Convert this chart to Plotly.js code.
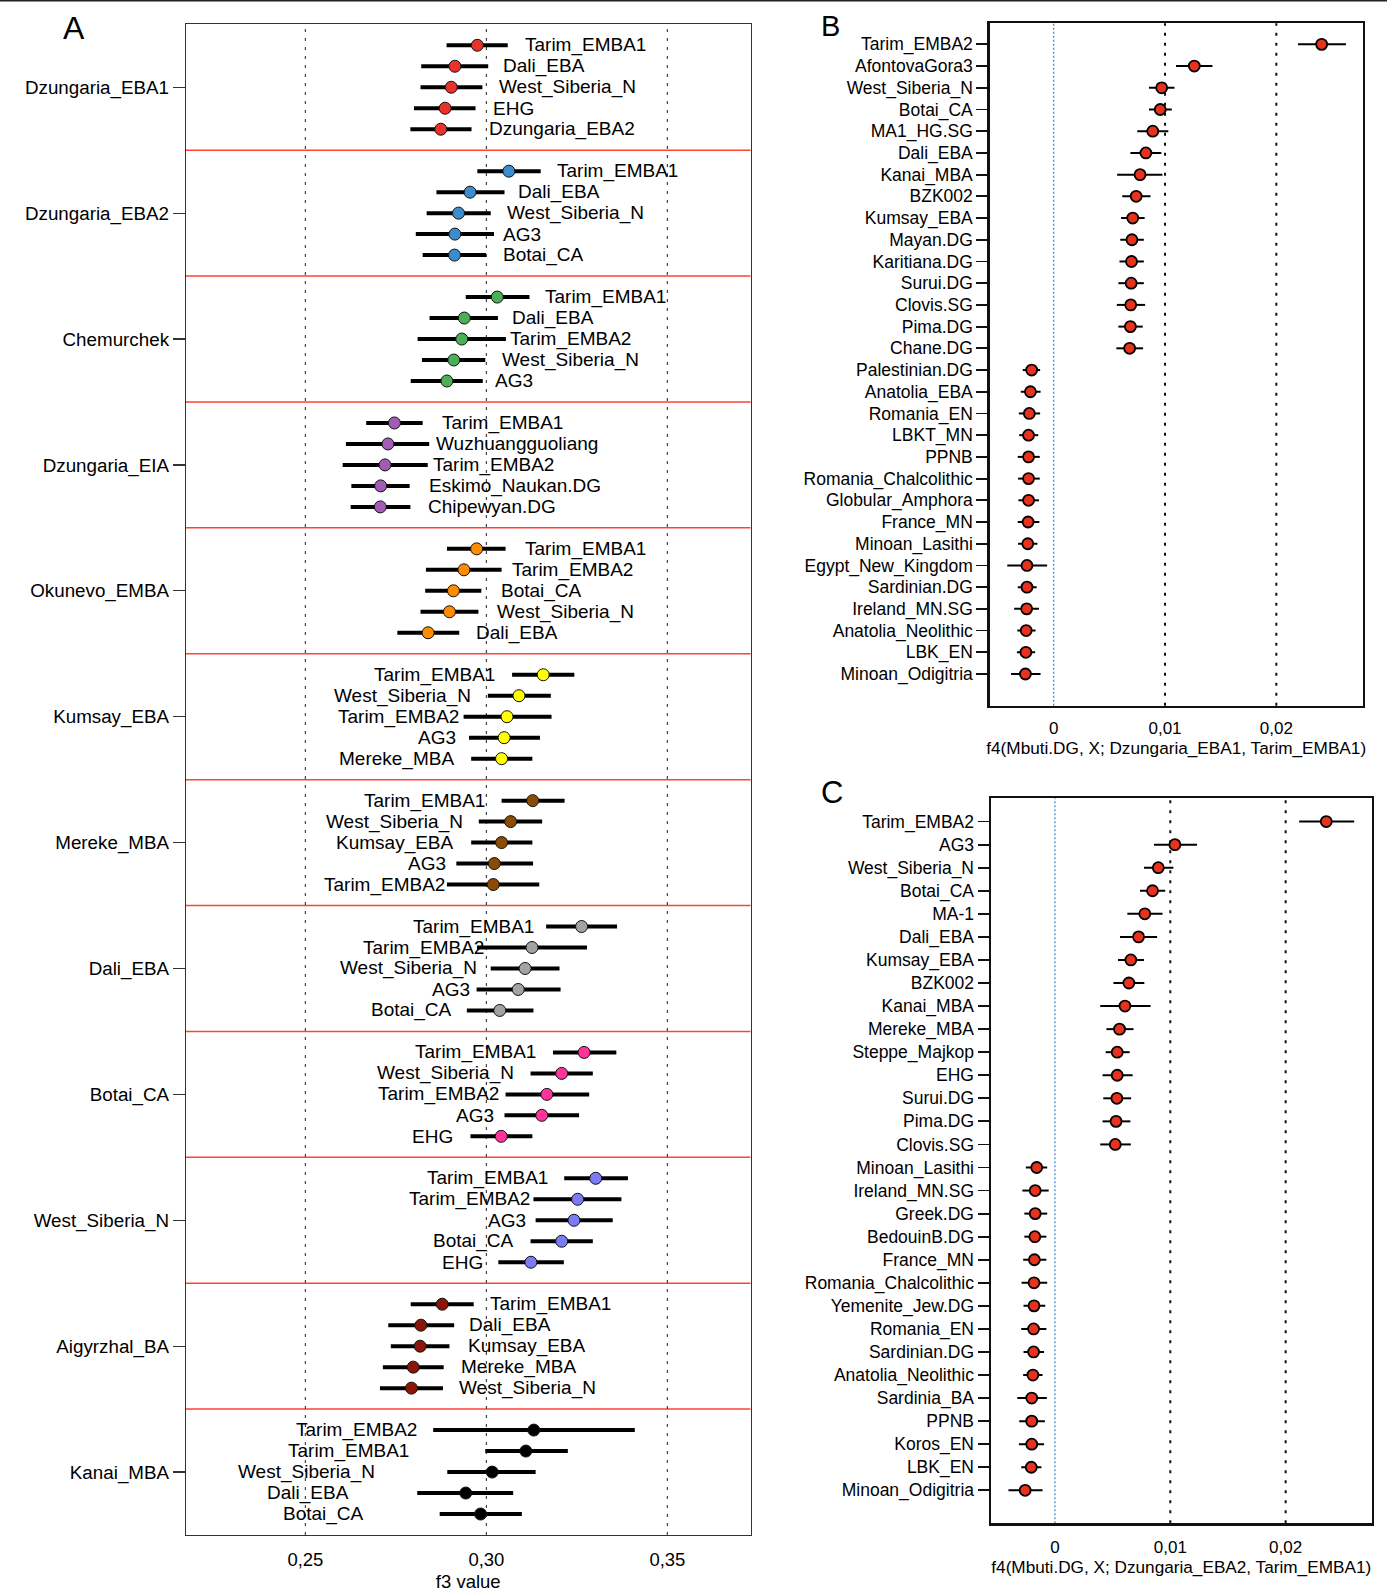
<!DOCTYPE html>
<html>
<head>
<meta charset="utf-8">
<script src="https://cdn.plot.ly/plotly-3.0.1.min.js"></script>
<style>
  html, body { margin: 0; padding: 0; background: #fff; }
  #fig { width: 1387px; height: 1592px; }
</style>
</head>
<body>
<div id="fig"></div>
<script>
// ---------- Panel A: f3 statistics, five best partners per target ----------
const A_GROUPS = ['Dzungaria_EBA1', 'Dzungaria_EBA2', 'Chemurchek', 'Dzungaria_EIA', 'Okunevo_EMBA',
  'Kumsay_EBA', 'Mereke_MBA', 'Dali_EBA', 'Botai_CA', 'West_Siberia_N', 'Aigyrzhal_BA', 'Kanai_MBA'];

const A_POPS = [
  ['Tarim_EMBA1', 'Dali_EBA', 'West_Siberia_N', 'EHG', 'Dzungaria_EBA2'],
  ['Tarim_EMBA1', 'Dali_EBA', 'West_Siberia_N', 'AG3', 'Botai_CA'],
  ['Tarim_EMBA1', 'Dali_EBA', 'Tarim_EMBA2', 'West_Siberia_N', 'AG3'],
  ['Tarim_EMBA1', 'Wuzhuangguoliang', 'Tarim_EMBA2', 'Eskimo_Naukan.DG', 'Chipewyan.DG'],
  ['Tarim_EMBA1', 'Tarim_EMBA2', 'Botai_CA', 'West_Siberia_N', 'Dali_EBA'],
  ['Tarim_EMBA1', 'West_Siberia_N', 'Tarim_EMBA2', 'AG3', 'Mereke_MBA'],
  ['Tarim_EMBA1', 'West_Siberia_N', 'Kumsay_EBA', 'AG3', 'Tarim_EMBA2'],
  ['Tarim_EMBA1', 'Tarim_EMBA2', 'West_Siberia_N', 'AG3', 'Botai_CA'],
  ['Tarim_EMBA1', 'West_Siberia_N', 'Tarim_EMBA2', 'AG3', 'EHG'],
  ['Tarim_EMBA1', 'Tarim_EMBA2', 'AG3', 'Botai_CA', 'EHG'],
  ['Tarim_EMBA1', 'Dali_EBA', 'Kumsay_EBA', 'Mereke_MBA', 'West_Siberia_N'],
  ['Tarim_EMBA2', 'Tarim_EMBA1', 'West_Siberia_N', 'Dali_EBA', 'Botai_CA']
];

const A_F3 = [
  [0.2975, 0.2913, 0.2903, 0.2886, 0.2874],
  [0.3062, 0.2955, 0.2923, 0.2913, 0.2912],
  [0.3030, 0.2939, 0.2932, 0.2910, 0.2891],
  [0.2746, 0.2728, 0.2720, 0.2708, 0.2707],
  [0.2973, 0.2938, 0.2909, 0.2898, 0.2839],
  [0.3157, 0.3090, 0.3057, 0.3049, 0.3042],
  [0.3128, 0.3067, 0.3042, 0.3022, 0.3019],
  [0.3263, 0.3126, 0.3107, 0.3088, 0.3037],
  [0.3270, 0.3208, 0.3167, 0.3153, 0.3041],
  [0.3302, 0.3252, 0.3242, 0.3208, 0.3123],
  [0.2878, 0.2819, 0.2817, 0.2798, 0.2793],
  [0.3131, 0.3109, 0.3016, 0.2943, 0.2984]
];

const A_LO = [
  [0.2890, 0.2820, 0.2818, 0.2800, 0.2790],
  [0.2975, 0.2862, 0.2835, 0.2805, 0.2824],
  [0.2943, 0.2843, 0.2810, 0.2822, 0.2791],
  [0.2668, 0.2612, 0.2603, 0.2627, 0.2625],
  [0.2891, 0.2833, 0.2831, 0.2818, 0.2754],
  [0.3071, 0.3004, 0.2937, 0.2952, 0.2958],
  [0.3042, 0.2979, 0.2958, 0.2917, 0.2891],
  [0.3165, 0.2974, 0.3012, 0.2973, 0.2946],
  [0.3184, 0.3122, 0.3053, 0.3050, 0.2956],
  [0.3215, 0.3130, 0.3136, 0.3122, 0.3033],
  [0.2791, 0.2729, 0.2736, 0.2714, 0.2706],
  [0.2853, 0.2997, 0.2892, 0.2809, 0.2871]
];

const A_HI = [
  [0.3059, 0.3005, 0.2989, 0.2970, 0.2959],
  [0.3150, 0.3050, 0.3012, 0.3021, 0.2999],
  [0.3119, 0.3032, 0.3054, 0.2997, 0.2990],
  [0.2824, 0.2842, 0.2838, 0.2788, 0.2790],
  [0.3053, 0.3042, 0.2986, 0.2978, 0.2925],
  [0.3243, 0.3178, 0.3180, 0.3148, 0.3127],
  [0.3216, 0.3154, 0.3127, 0.3129, 0.3146],
  [0.3361, 0.3278, 0.3202, 0.3205, 0.3130],
  [0.3359, 0.3294, 0.3284, 0.3256, 0.3127],
  [0.3391, 0.3373, 0.3349, 0.3294, 0.3214],
  [0.2965, 0.2911, 0.2898, 0.2882, 0.2880],
  [0.3410, 0.3225, 0.3136, 0.3074, 0.3098]
];

const A_TICKS = [0.25, 0.30, 0.35];
const A_TICK_TEXT = ['0,25', '0,30', '0,35'];

// ---------- Panel B: f4(Mbuti.DG, X; Dzungaria_EBA1, Tarim_EMBA1) ----------
const B_POPS = ['Tarim_EMBA2', 'AfontovaGora3', 'West_Siberia_N', 'Botai_CA', 'MA1_HG.SG', 'Dali_EBA',
  'Kanai_MBA', 'BZK002', 'Kumsay_EBA', 'Mayan.DG', 'Karitiana.DG', 'Surui.DG', 'Clovis.SG', 'Pima.DG',
  'Chane.DG', 'Palestinian.DG', 'Anatolia_EBA', 'Romania_EN', 'LBKT_MN', 'PPNB', 'Romania_Chalcolithic',
  'Globular_Amphora', 'France_MN', 'Minoan_Lasithi', 'Egypt_New_Kingdom', 'Sardinian.DG', 'Ireland_MN.SG',
  'Anatolia_Neolithic', 'LBK_EN', 'Minoan_Odigitria'];
const B_F4 = [0.02407, 0.01263, 0.00970, 0.00957, 0.00890, 0.00828, 0.00776, 0.00741, 0.00710, 0.00703,
  0.00699, 0.00696, 0.00692, 0.00689, 0.00682, -0.00198, -0.00209, -0.00219, -0.00226, -0.00226,
  -0.00226, -0.00226, -0.00230, -0.00233, -0.00240, -0.00240, -0.00243, -0.00247, -0.00250, -0.00254];
const B_LO = [0.02195, 0.01099, 0.00856, 0.00856, 0.00751, 0.00689, 0.00570, 0.00616, 0.00605, 0.00598,
  0.00591, 0.00581, 0.00567, 0.00581, 0.00563, -0.00278, -0.00296, -0.00313, -0.00310, -0.00323,
  -0.00320, -0.00317, -0.00323, -0.00320, -0.00417, -0.00323, -0.00355, -0.00327, -0.00330, -0.00383];
const B_HI = [0.02626, 0.01426, 0.01085, 0.01061, 0.01030, 0.00967, 0.00977, 0.00870, 0.00817, 0.00810,
  0.00810, 0.00810, 0.00821, 0.00800, 0.00803, -0.00122, -0.00118, -0.00122, -0.00139, -0.00125,
  -0.00125, -0.00132, -0.00129, -0.00146, -0.00059, -0.00153, -0.00132, -0.00163, -0.00167, -0.00118];

// ---------- Panel C: f4(Mbuti.DG, X; Dzungaria_EBA2, Tarim_EMBA1) ----------
const C_POPS = ['Tarim_EMBA2', 'AG3', 'West_Siberia_N', 'Botai_CA', 'MA-1', 'Dali_EBA', 'Kumsay_EBA',
  'BZK002', 'Kanai_MBA', 'Mereke_MBA', 'Steppe_Majkop', 'EHG', 'Surui.DG', 'Pima.DG', 'Clovis.SG',
  'Minoan_Lasithi', 'Ireland_MN.SG', 'Greek.DG', 'BedouinB.DG', 'France_MN', 'Romania_Chalcolithic',
  'Yemenite_Jew.DG', 'Romania_EN', 'Sardinian.DG', 'Anatolia_Neolithic', 'Sardinia_BA', 'PPNB',
  'Koros_EN', 'LBK_EN', 'Minoan_Odigitria'];
const C_F4 = [0.02352, 0.01040, 0.00896, 0.00846, 0.00779, 0.00725, 0.00658, 0.00641, 0.00607, 0.00560,
  0.00540, 0.00540, 0.00537, 0.00530, 0.00523, -0.00158, -0.00171, -0.00171, -0.00174, -0.00178,
  -0.00181, -0.00181, -0.00185, -0.00185, -0.00191, -0.00201, -0.00201, -0.00201, -0.00205, -0.00258];
const C_LO = [0.02117, 0.00859, 0.00772, 0.00738, 0.00628, 0.00564, 0.00547, 0.00507, 0.00393, 0.00446,
  0.00440, 0.00413, 0.00419, 0.00413, 0.00393, -0.00252, -0.00282, -0.00265, -0.00265, -0.00275,
  -0.00289, -0.00272, -0.00292, -0.00272, -0.00275, -0.00326, -0.00309, -0.00312, -0.00292, -0.00403];
const C_HI = [0.02594, 0.01232, 0.01027, 0.00956, 0.00933, 0.00886, 0.00772, 0.00775, 0.00829, 0.00681,
  0.00648, 0.00674, 0.00661, 0.00654, 0.00658, -0.00067, -0.00054, -0.00067, -0.00074, -0.00074,
  -0.00067, -0.00084, -0.00074, -0.00094, -0.00107, -0.00070, -0.00087, -0.00094, -0.00117, -0.00107];

const F4_TICKS = [0, 0.01, 0.02];
const F4_TICK_TEXT = ['0', '0,01', '0,02'];

// ---------- styling ----------
const FONT = 'Liberation Sans, Arial, Helvetica, sans-serif';
const A_COLORS = ['#e8322a', '#3d8ccb', '#4caf55', '#a15db5', '#ff8c00', '#ffff00',
  '#8b4a06', '#a3a3a3', '#ff3399', '#7b7bf5', '#8b1508', '#000000'];
const LABEL_ON_RIGHT = [true, true, true, true, true, false, false, false, false, false, true, false];
const ROWS_PER_GROUP = 6;         // five partners plus one blank slot
const W = 1387, H = 1592;
const px = (v) => v / W, py = (v) => 1 - v / H;

const traces = [];
const annotations = [];
const shapes = [];

// Panel A rows
A_GROUPS.forEach((g, gi) => {
  const ys = A_F3[gi].map((_, i) => gi * ROWS_PER_GROUP + i + 1);
  traces.push({
    type: 'scatter', mode: 'markers', xaxis: 'x', yaxis: 'y',
    x: A_F3[gi], y: ys, name: g, hoverinfo: 'skip',
    error_x: {
      type: 'data', symmetric: false,
      array: A_HI[gi].map((h, i) => h - A_F3[gi][i]),
      arrayminus: A_LO[gi].map((l, i) => A_F3[gi][i] - l),
      color: '#000', thickness: 4, width: 0
    },
    marker: { color: A_COLORS[gi], size: 12, line: { color: '#111', width: 1 } }
  });
  const shift = (g === 'Kanai_MBA') ? 115 : 46;
  A_POPS[gi].forEach((p, i) => {
    annotations.push({
      xref: 'x', yref: 'y', x: A_F3[gi][i], y: ys[i], text: p, showarrow: false,
      xanchor: LABEL_ON_RIGHT[gi] ? 'left' : 'right',
      xshift: LABEL_ON_RIGHT[gi] ? shift : -shift,
      yanchor: 'middle', font: { family: FONT, size: 19, color: '#000' }
    });
  });
  if (gi > 0) {
    shapes.push({
      type: 'line', xref: 'x domain', yref: 'y', x0: 0, x1: 1,
      y0: gi * ROWS_PER_GROUP, y1: gi * ROWS_PER_GROUP,
      line: { color: '#ff4236', width: 1.5 }, layer: 'below'
    });
  }
});
A_TICKS.forEach((v) => shapes.push({
  type: 'line', xref: 'x', yref: 'y domain', x0: v, x1: v, y0: 0, y1: 1,
  line: { color: '#444', width: 1.2, dash: '3px,6px' }, layer: 'below'
}));

// Panels B and C
function f4Panel(pops, vals, lo, hi, xa, ya) {
  const ys = pops.map((_, i) => i + 1);
  traces.push({
    type: 'scatter', mode: 'markers', xaxis: xa, yaxis: ya,
    x: vals, y: ys, hoverinfo: 'skip',
    error_x: {
      type: 'data', symmetric: false,
      array: hi.map((h, i) => h - vals[i]),
      arrayminus: lo.map((l, i) => vals[i] - l),
      color: '#000', thickness: 2, width: 0
    },
    marker: { color: '#e8321e', size: 11, line: { color: '#000', width: 1.8 } }
  });
  F4_TICKS.forEach((v) => shapes.push({
    type: 'line', xref: xa, yref: ya + ' domain', x0: v, x1: v, y0: 0, y1: 1,
    line: v === 0 ? { color: '#3b8fd6', width: 1.3, dash: '2px,2px' }
                  : { color: '#111', width: 2, dash: '3px,7px' },
    layer: 'below'
  }));
}
f4Panel(B_POPS, B_F4, B_LO, B_HI, 'x2', 'y2');
f4Panel(C_POPS, C_F4, C_LO, C_HI, 'x3', 'y3');

// Panel letters
[['A', 61, 28, 32], ['B', 819, 26, 29], ['C', 819, 792, 31]].forEach(([t, x, y, s]) => {
  annotations.push({
    xref: 'paper', yref: 'paper', x: px(x), y: py(y), text: t, showarrow: false,
    xanchor: 'left', yanchor: 'middle', font: { family: FONT, size: s, color: '#000' }
  });
});

// Thin rule across the top edge
shapes.push({
  type: 'line', xref: 'paper', yref: 'paper', x0: 0, x1: 1, y0: 1, y1: 1,
  line: { color: '#222', width: 3 }
});

const baseX = {
  showgrid: false, zeroline: false, showline: true, mirror: true,
  ticks: 'outside', tickcolor: 'rgba(0,0,0,0)', fixedrange: true
};
const baseY = {
  showgrid: false, zeroline: false, showline: true, mirror: true,
  ticks: 'outside', fixedrange: true
};

const layout = {
  width: W, height: H,
  margin: { l: 0, r: 0, t: 0, b: 0 },
  paper_bgcolor: '#fff', plot_bgcolor: '#fff',
  showlegend: false,
  font: { family: FONT, color: '#000' },
  xaxis: Object.assign({}, baseX, {
    domain: [px(186), px(750.5)], anchor: 'y',
    range: [0.21702, 0.37296], tickvals: A_TICKS, ticktext: A_TICK_TEXT,
    ticklen: 8, linecolor: '#333', linewidth: 1.2,
    tickfont: { family: FONT, size: 18.5 },
    title: { text: 'f3 value', font: { family: FONT, size: 18.5 }, standoff: 6 }
  }),
  yaxis: Object.assign({}, baseY, {
    domain: [py(1535), py(24.3)], anchor: 'x',
    range: [A_GROUPS.length * ROWS_PER_GROUP, 0],
    tickvals: A_GROUPS.map((_, gi) => gi * ROWS_PER_GROUP + 3), ticktext: A_GROUPS,
    ticklen: 12, tickcolor: '#333', tickwidth: 1.2, linecolor: '#333', linewidth: 1.2,
    tickfont: { family: FONT, size: 18.8 }
  }),
  xaxis2: Object.assign({}, baseX, {
    domain: [px(989.8), px(1362.6)], anchor: 'y2',
    range: [-0.00574, 0.02775], tickvals: F4_TICKS, ticktext: F4_TICK_TEXT,
    ticklen: 5, linecolor: '#111', linewidth: 2.5,
    tickfont: { family: FONT, size: 17 },
    title: { text: 'f4(Mbuti.DG, X; Dzungaria_EBA1, Tarim_EMBA1)', font: { family: FONT, size: 17.2 }, standoff: 4 }
  }),
  yaxis2: Object.assign({}, baseY, {
    domain: [py(705.7), py(23.3)], anchor: 'x2',
    range: [B_POPS.length + 1.46, 0.03],
    tickvals: B_POPS.map((_, i) => i + 1), ticktext: B_POPS,
    ticklen: 11, tickcolor: '#111', tickwidth: 1.8, linecolor: '#111', linewidth: 2.5,
    tickfont: { family: FONT, size: 17.5 }
  }),
  xaxis3: Object.assign({}, baseX, {
    domain: [px(991), px(1371.5)], anchor: 'y3',
    range: [-0.00554, 0.02744], tickvals: F4_TICKS, ticktext: F4_TICK_TEXT,
    ticklen: 7, linecolor: '#111', linewidth: 2.5,
    tickfont: { family: FONT, size: 17 },
    title: { text: 'f4(Mbuti.DG, X; Dzungaria_EBA2, Tarim_EMBA1)', font: { family: FONT, size: 17.2 }, standoff: 5 }
  }),
  yaxis3: Object.assign({}, baseY, {
    domain: [py(1523.3), py(798.3)], anchor: 'x3',
    range: [C_POPS.length + 1.43, -0.01],
    tickvals: C_POPS.map((_, i) => i + 1), ticktext: C_POPS,
    ticklen: 11, tickcolor: '#111', tickwidth: 1.8, linecolor: '#111', linewidth: 2.5,
    tickfont: { family: FONT, size: 17.5 }
  }),
  shapes: shapes,
  annotations: annotations
};

Plotly.newPlot('fig', traces, layout, { staticPlot: true, displayModeBar: false });
</script>
</body>
</html>
